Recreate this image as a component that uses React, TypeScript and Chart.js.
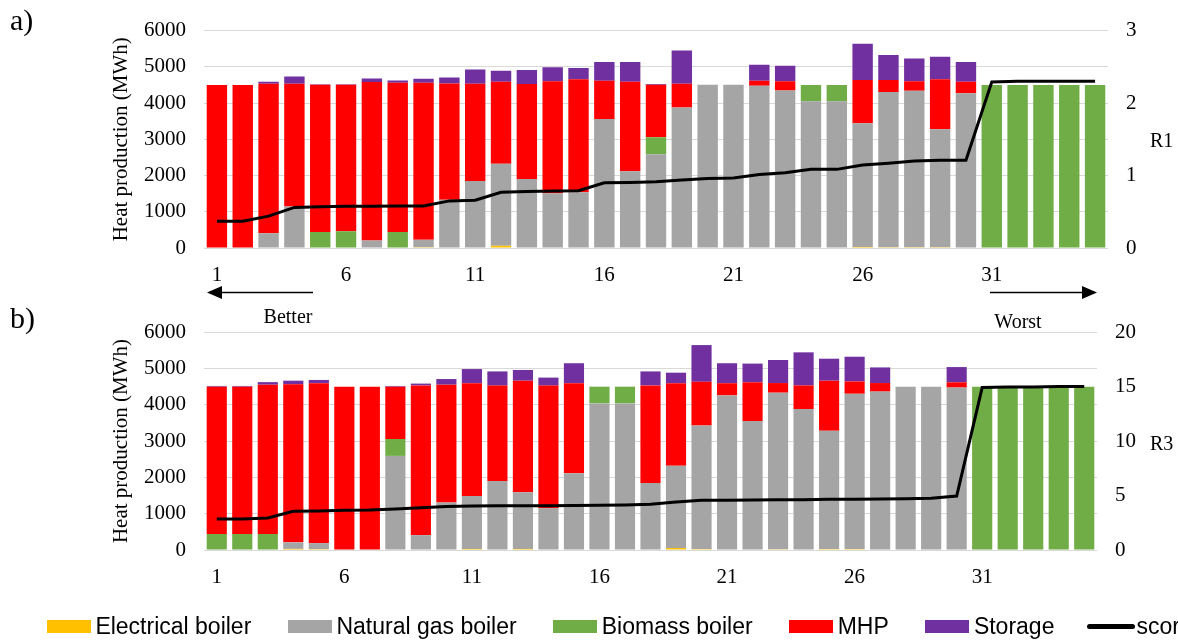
import React, { useEffect, useRef } from "react";
import { Chart, registerables } from "chart.js";

Chart.register(...registerables);

// ---------- data ----------
const categories = [
  "1", "2", "3", "4", "5", "6", "7", "8", "9", "10",
  "11", "12", "13", "14", "15", "16", "17", "18", "19", "20",
  "21", "22", "23", "24", "25", "26", "27", "28", "29", "30",
  "31", "32", "33", "34", "35",
];

const seriesNames = ["Electrical boiler", "Natural gas boiler", "Biomass boiler", "MHP", "Storage"];
const seriesColors = ["#FFC000", "#A5A5A5", "#70AD47", "#FF0000", "#7030A0"];
const scoreName = "score";

// Panel a) (R1 ranking)
const elecA = [0, 0, 0, 0, 0, 0, 15, 0, 20, 0, 0, 65, 0, 15, 15, 0, 0, 0, 0, 0, 0, 0, 0, 0, 0, 30, 20, 20, 20, 0, 0, 0, 0, 0, 0];
const gasA = [0, 0, 410, 1145, 0, 0, 195, 0, 210, 1330, 1850, 2260, 1905, 1495, 1525, 3560, 2115, 2590, 3880, 4505, 4505, 4480, 4350, 4050, 4050, 3415, 4285, 4320, 3260, 4270, 0, 0, 0, 0, 0];
const bioA = [0, 0, 0, 0, 440, 460, 0, 440, 0, 0, 0, 0, 0, 0, 0, 0, 0, 470, 0, 0, 0, 0, 0, 450, 450, 0, 0, 0, 0, 0, 4500, 4500, 4500, 4500, 4500];
const mhpA = [4500, 4500, 4120, 3385, 4065, 4045, 4370, 4120, 4330, 3210, 2680, 2265, 2620, 3090, 3120, 1055, 2475, 1445, 650, 0, 0, 135, 250, 0, 0, 1190, 330, 260, 1380, 320, 0, 0, 0, 0, 0];
const storA = [0, 0, 60, 205, 15, 15, 100, 65, 110, 165, 395, 300, 385, 390, 305, 520, 545, 20, 920, 0, 0, 440, 430, 0, 0, 1005, 695, 630, 615, 545, 0, 0, 0, 0, 0];
const scoreA = [0.37, 0.37, 0.44, 0.56, 0.57, 0.575, 0.575, 0.58, 0.58, 0.65, 0.66, 0.77, 0.78, 0.785, 0.79, 0.9, 0.905, 0.915, 0.94, 0.96, 0.965, 1.015, 1.04, 1.085, 1.085, 1.145, 1.17, 1.2, 1.21, 1.21, 2.29, 2.3, 2.3, 2.3, 2.3];

// Panel b) (R3 ranking)
const elecB = [0, 0, 0, 30, 25, 0, 0, 0, 0, 0, 30, 0, 30, 0, 0, 0, 0, 0, 55, 25, 0, 0, 20, 0, 25, 25, 0, 0, 0, 0, 0, 0, 0, 0, 0];
const gasB = [0, 0, 0, 180, 165, 0, 0, 2590, 410, 1310, 1455, 1900, 1560, 1150, 2110, 4035, 4035, 1845, 2265, 3405, 4255, 3550, 4310, 3880, 3260, 4275, 4360, 4495, 4495, 4470, 0, 0, 0, 0, 0];
const bioB = [440, 440, 440, 0, 0, 0, 0, 465, 0, 0, 0, 0, 0, 0, 0, 460, 460, 0, 0, 0, 0, 0, 0, 0, 0, 0, 0, 0, 0, 0, 4495, 4495, 4495, 4495, 4495];
const mhpB = [4055, 4055, 4110, 4350, 4400, 4495, 4495, 1440, 4120, 3240, 3105, 2625, 3070, 3375, 2480, 0, 0, 2685, 2270, 1200, 335, 1065, 265, 650, 1375, 340, 235, 0, 0, 145, 0, 0, 0, 0, 0];
const storB = [20, 20, 70, 100, 90, 0, 0, 20, 50, 155, 390, 390, 295, 220, 550, 0, 0, 385, 290, 1010, 550, 515, 635, 910, 605, 680, 430, 0, 0, 420, 0, 0, 0, 0, 0];
const scoreB = [2.84, 2.84, 2.94, 3.55, 3.58, 3.64, 3.67, 3.76, 3.88, 3.98, 4.04, 4.07, 4.07, 4.07, 4.08, 4.1, 4.12, 4.19, 4.4, 4.56, 4.56, 4.59, 4.62, 4.62, 4.65, 4.65, 4.68, 4.71, 4.74, 4.95, 14.9, 14.95, 14.95, 15.0, 15.0];

const leftAxisTitle = "Heat production (MWh)";
const leftMax = 6000;
const leftStep = 1000;

// ---------- chart ----------
const SERIF = '"Liberation Serif", "Times New Roman", serif';

type PanelCfg = {
  padTop: number;
  xHeight: number;
  y1Width: number;
  y1Max: number;
  y1Step: number;
};

function buildChart(canvas: HTMLCanvasElement, stacks: number[][], score: number[], P: PanelCfg) {
  const tickFont = { family: SERIF, size: 21 };
  return new Chart(canvas, {
    type: "bar",
    data: {
      labels: categories,
      datasets: [
        ...stacks.map((d, i) => ({
          type: "bar" as const,
          label: seriesNames[i],
          data: d,
          backgroundColor: seriesColors[i],
          borderWidth: 0,
          barPercentage: 0.79,
          categoryPercentage: 1,
          order: 1,
          yAxisID: "y",
          stack: "s",
        })),
        {
          type: "line" as const,
          label: scoreName,
          data: score,
          borderColor: "#000000",
          backgroundColor: "#000000",
          borderWidth: 3,
          pointRadius: 0,
          tension: 0,
          fill: false,
          yAxisID: "y1",
          order: 0,
          stack: "line",
        },
      ],
    } as any,
    options: {
      responsive: false,
      animation: false,
      devicePixelRatio: 1,
      layout: { padding: { top: P.padTop, left: 0, right: 0, bottom: 0 } },
      plugins: { legend: { display: false }, tooltip: { enabled: false } },
      scales: {
        x: {
          stacked: true,
          grid: { display: false, drawTicks: false },
          border: { display: false },
          ticks: {
            autoSkip: false,
            maxRotation: 0,
            minRotation: 0,
            padding: 15,
            color: "#000",
            font: tickFont,
            callback: (_v: any, i: number) => (i % 5 === 0 ? categories[i] : ""),
          },
          afterFit: (s: any) => {
            s.height = P.xHeight;
          },
        },
        y: {
          stacked: true,
          min: 0,
          max: leftMax,
          ticks: {
            stepSize: leftStep,
            padding: 18,
            color: "#000",
            font: tickFont,
            callback: (v: any) => String(v),
          },
          grid: { color: "#D9D9D9", lineWidth: 1, drawTicks: false },
          border: { display: false },
          title: {
            display: true,
            text: leftAxisTitle,
            color: "#000",
            font: { family: SERIF, size: 21 },
            padding: { top: 109, bottom: 0 },
          },
          afterFit: (s: any) => {
            s.width = 204;
          },
        },
        y1: {
          position: "right",
          min: 0,
          max: P.y1Max,
          ticks: {
            stepSize: P.y1Step,
            padding: 18,
            color: "#000",
            font: tickFont,
            callback: (v: any) => String(v),
          },
          grid: { display: false, drawTicks: false },
          border: { display: false },
          afterFit: (s: any) => {
            s.width = P.y1Width;
          },
        },
      },
    } as any,
  });
}

export default function App() {
  const refA = useRef<HTMLCanvasElement>(null);
  const refB = useRef<HTMLCanvasElement>(null);

  useEffect(() => {
    const a = buildChart(refA.current!, [elecA, gasA, bioA, mhpA, storA], scoreA, {
      padTop: 30,
      xHeight: 52,
      y1Width: 70,
      y1Max: 3,
      y1Step: 1,
    });
    const b = buildChart(refB.current!, [elecB, gasB, bioB, mhpB, storB], scoreB, {
      padTop: 32,
      xHeight: 50,
      y1Width: 81,
      y1Max: 20,
      y1Step: 5,
    });
    return () => {
      a.destroy();
      b.destroy();
    };
  }, []);

  const legendItems = [
    ...seriesNames.map((n, i) => ({ name: n, color: seriesColors[i], line: false })),
    { name: scoreName, color: "#000000", line: true },
  ];

  return (
    <div
      style={{
        position: "absolute",
        left: 0,
        top: 0,
        width: 1178,
        height: 640,
        overflow: "hidden",
        background: "#ffffff",
      }}
    >
      <canvas ref={refA} width={1178} height={300} style={{ position: "absolute", left: 0, top: 0 }} />
      <canvas ref={refB} width={1178} height={300} style={{ position: "absolute", left: 0, top: 300 }} />

      <svg
        width={1178}
        height={640}
        style={{ position: "absolute", left: 0, top: 0, pointerEvents: "none" }}
      >
        <g fontFamily={SERIF} fill="#000">
          <text x={10} y={30} fontSize={30}>a)</text>
          <text x={10} y={328} fontSize={30}>b)</text>
          <text x={288} y={323} fontSize={20} textAnchor="middle">Better</text>
          <text x={1018} y={328} fontSize={20} textAnchor="middle">Worst</text>
          <text x={1150} y={147} fontSize={20}>R1</text>
          <text x={1150} y={450} fontSize={20}>R3</text>
        </g>
        <line x1={313} y1={292.5} x2={218} y2={292.5} stroke="#000" strokeWidth={1.5} />
        <polygon points="207,292.5 222,286 222,299" fill="#000" />
        <line x1={990} y1={292.5} x2={1086} y2={292.5} stroke="#000" strokeWidth={1.5} />
        <polygon points="1097,292.5 1082,286 1082,299" fill="#000" />
      </svg>

      <div
        style={{
          position: "absolute",
          left: 46.7,
          top: 614.5,
          display: "flex",
          alignItems: "center",
          whiteSpace: "nowrap",
          fontFamily: '"Liberation Sans", Arial, sans-serif',
          fontSize: 23,
          lineHeight: "23px",
          color: "#000",
        }}
      >
        {legendItems.map((it, idx) => (
          <div
            key={it.name}
            style={{
              display: "flex",
              alignItems: "center",
              marginRight: idx === legendItems.length - 2 ? 33 : 36.4,
            }}
          >
            <span
              style={{
                display: "inline-block",
                width: it.line ? 48 : 44,
                height: it.line ? 5 : 13,
                borderRadius: it.line ? 2.5 : 0,
                background: it.color,
                marginRight: it.line ? 1 : 4.7,
              }}
            />
            <span>{it.name}</span>
          </div>
        ))}
      </div>
    </div>
  );
}
